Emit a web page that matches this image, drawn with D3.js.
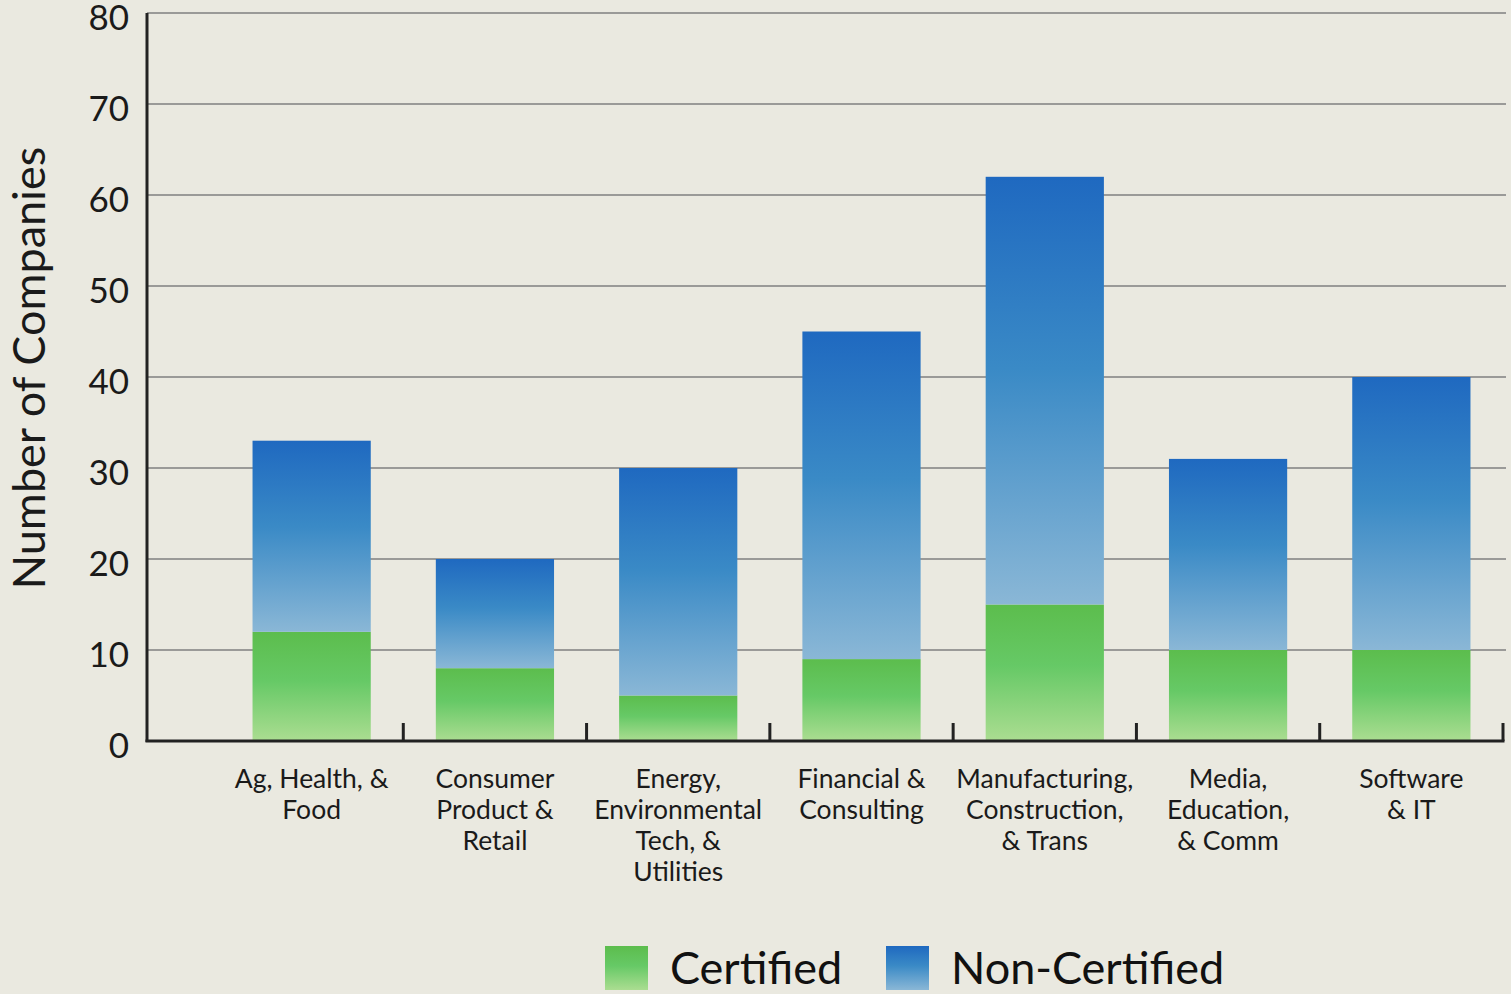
<!DOCTYPE html>
<html>
<head>
<meta charset="utf-8">
<script src="https://cdn.jsdelivr.net/npm/d3@7"></script>
<style>
  html, body { margin: 0; padding: 0; background: #eae9e0; }
  svg { display: block; font-family: Lato, "Open Sans", sans-serif; }
</style>
</head>
<body>
<div class="chart"></div>
<script>
var categories = [
  ["Ag, Health, &", "Food"],
  ["Consumer", "Product &", "Retail"],
  ["Energy,", "Environmental", "Tech, &", "Utilities"],
  ["Financial &", "Consulting"],
  ["Manufacturing,", "Construction,", "& Trans"],
  ["Media,", "Education,", "& Comm"],
  ["Software", "& IT"]
];
var certified = [12, 8, 5, 9, 15, 10, 10];
var nonCertified = [21, 12, 25, 36, 47, 21, 30];
var yTicks = [0, 10, 20, 30, 40, 50, 60, 70, 80];
var seriesNames = ["Certified", "Non-Certified"];

var width = 1511, height = 994;

var svg = d3.select(".chart").append("svg")
  .attr("width", width)
  .attr("height", height);

var defs = svg.append("defs");
var gGreen = defs.append("linearGradient").attr("id", "gGreen")
  .attr("x1", 0).attr("y1", 0).attr("x2", 0).attr("y2", 1);
gGreen.append("stop").attr("offset", "0%").attr("stop-color", "#5cbd4d");
gGreen.append("stop").attr("offset", "45%").attr("stop-color", "#66c966");
gGreen.append("stop").attr("offset", "100%").attr("stop-color", "#abdd91");
var gBlue = defs.append("linearGradient").attr("id", "gBlue")
  .attr("x1", 0).attr("y1", 0).attr("x2", 0).attr("y2", 1);
gBlue.append("stop").attr("offset", "0%").attr("stop-color", "#1f69c0");
gBlue.append("stop").attr("offset", "45%").attr("stop-color", "#3a8ac6");
gBlue.append("stop").attr("offset", "100%").attr("stop-color", "#8ab7d6");

var axisX = 147, x0 = 220, x1 = 1503, y0 = 741, yTop = 13;

var x = d3.scaleBand()
  .domain(d3.range(categories.length))
  .range([x0, x1])
  .paddingInner(0.355)
  .paddingOuter(0.1775);

var y = d3.scaleLinear().domain([0, 80]).range([y0, yTop]);

// gridlines
svg.append("g").selectAll("line")
  .data(yTicks.filter(function(d) { return d > 0; }))
  .enter().append("line")
  .attr("x1", axisX).attr("x2", 1506)
  .attr("y1", function(d) { return y(d); })
  .attr("y2", function(d) { return y(d); })
  .attr("stroke", "#9a9a98")
  .attr("stroke-width", 2);

// y tick labels
svg.append("g").selectAll("text")
  .data(yTicks)
  .enter().append("text")
  .attr("x", 129)
  .attr("y", function(d) { return y(d) + 8; })
  .attr("text-anchor", "end")
  .attr("dominant-baseline", "middle")
  .attr("font-size", 35)
  .attr("fill", "#1a1a1a")
  .text(function(d) { return d; });

// bars
var bars = svg.append("g");
bars.selectAll("rect.cert")
  .data(certified)
  .enter().append("rect")
  .attr("class", "cert")
  .attr("x", function(d, i) { return x(i); })
  .attr("width", x.bandwidth())
  .attr("y", function(d) { return y(d); })
  .attr("height", function(d) { return y0 - y(d); })
  .attr("fill", "url(#gGreen)");

bars.selectAll("rect.non")
  .data(nonCertified)
  .enter().append("rect")
  .attr("class", "non")
  .attr("x", function(d, i) { return x(i); })
  .attr("width", x.bandwidth())
  .attr("y", function(d, i) { return y(d + certified[i]); })
  .attr("height", function(d, i) { return y(certified[i]) - y(d + certified[i]); })
  .attr("fill", "url(#gBlue)");

// axes lines
svg.append("line")
  .attr("x1", axisX).attr("x2", axisX)
  .attr("y1", yTop).attr("y2", y0 + 1)
  .attr("stroke", "#222").attr("stroke-width", 3);
svg.append("line")
  .attr("x1", axisX - 1.5).attr("x2", x1 + 1.5)
  .attr("y1", y0).attr("y2", y0)
  .attr("stroke", "#222").attr("stroke-width", 3);

// x ticks at band right edges
svg.append("g").selectAll("line")
  .data(categories)
  .enter().append("line")
  .attr("x1", function(d, i) { return x(i) + x.bandwidth() + x.step() * x.paddingInner() / 2; })
  .attr("x2", function(d, i) { return x(i) + x.bandwidth() + x.step() * x.paddingInner() / 2; })
  .attr("y1", y0).attr("y2", y0 - 18)
  .attr("stroke", "#222").attr("stroke-width", 3);

// x labels
var labels = svg.append("g").selectAll("text")
  .data(categories)
  .enter().append("text")
  .attr("text-anchor", "middle")
  .attr("font-size", 26.5)
  .attr("fill", "#1a1a1a")
  .attr("transform", function(d, i) { return "translate(" + (x(i) + x.bandwidth() / 2) + ",788)"; });
labels.selectAll("tspan")
  .data(function(d) { return d; })
  .enter().append("tspan")
  .attr("x", 0)
  .attr("y", function(d, j) { return j * 31; })
  .text(function(d) { return d; });

// y title
svg.append("text")
  .attr("transform", "translate(45,368) rotate(-90)")
  .attr("text-anchor", "middle")
  .attr("font-size", 45)
  .attr("fill", "#1a1a1a")
  .text("Number of Companies");

// legend
var legend = svg.append("g");
var legendPos = [605, 886];
var legendFill = ["url(#gGreen)", "url(#gBlue)"];
seriesNames.forEach(function(name, i) {
  legend.append("rect")
    .attr("x", legendPos[i]).attr("y", 946)
    .attr("width", 43).attr("height", 44)
    .attr("fill", legendFill[i]);
  legend.append("text")
    .attr("x", legendPos[i] + 65).attr("y", 984)
    .attr("font-size", 45)
    .attr("fill", "#111")
    .text(name);
});
</script>
</body>
</html>
